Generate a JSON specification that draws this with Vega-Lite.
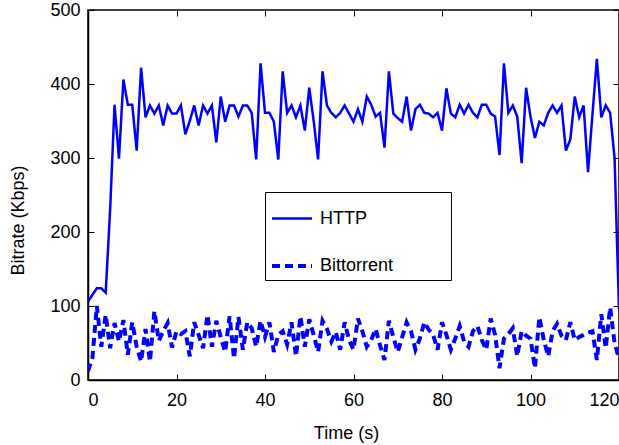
{
  "$schema": "https://vega.github.io/schema/vega-lite/v6.json",
  "width": 531,
  "height": 370,
  "autosize": {"type": "none"},
  "padding": {"left": 88, "top": 10, "right": 0, "bottom": 65},
  "background": "white",
  "config": {
    "view": {"stroke": "black", "strokeWidth": 1.5},
    "font": "Liberation Sans",
    "axis": {
      "domainColor": "black", "domainWidth": 1.5,
      "tickColor": "black", "tickSize": -6, "tickWidth": 1,
      "labelFont": "Liberation Sans", "labelFontSize": 18, "labelColor": "black",
      "titleFont": "Liberation Sans", "titleFontSize": 18, "titleColor": "black", "titleFontWeight": "normal",
      "grid": false
    },
    "legend": {
      "orient": "none", "legendX": 177, "legendY": 182,
      "symbolType": "stroke", "symbolSize": 1600,
      "strokeColor": "black", "fillColor": "white", "padding": 5,
      "rowPadding": 16, "labelFontSize": 18, "labelFont": "Liberation Sans", "labelColor": "black",
      "labelOffset": 6, "labelLimit": 0
    }
  },
  "data": {"values": [
{"t":0,"v":106,"s":"HTTP"},{"t":1,"v":115,"s":"HTTP"},{"t":2,"v":124,"s":"HTTP"},{"t":3,"v":124,"s":"HTTP"},{"t":4,"v":118,"s":"HTTP"},{"t":5,"v":230,"s":"HTTP"},{"t":6,"v":372,"s":"HTTP"},{"t":7,"v":299,"s":"HTTP"},{"t":8,"v":406,"s":"HTTP"},{"t":9,"v":372,"s":"HTTP"},
{"t":10,"v":372,"s":"HTTP"},{"t":11,"v":310,"s":"HTTP"},{"t":12,"v":422,"s":"HTTP"},{"t":13,"v":355,"s":"HTTP"},{"t":14,"v":371,"s":"HTTP"},{"t":15,"v":360,"s":"HTTP"},{"t":16,"v":371,"s":"HTTP"},{"t":17,"v":344,"s":"HTTP"},{"t":18,"v":371,"s":"HTTP"},{"t":19,"v":360,"s":"HTTP"},
{"t":20,"v":360,"s":"HTTP"},{"t":21,"v":371,"s":"HTTP"},{"t":22,"v":332,"s":"HTTP"},{"t":23,"v":350,"s":"HTTP"},{"t":24,"v":371,"s":"HTTP"},{"t":25,"v":344,"s":"HTTP"},{"t":26,"v":371,"s":"HTTP"},{"t":27,"v":360,"s":"HTTP"},{"t":28,"v":371,"s":"HTTP"},{"t":29,"v":321,"s":"HTTP"},
{"t":30,"v":383,"s":"HTTP"},{"t":31,"v":349,"s":"HTTP"},{"t":32,"v":371,"s":"HTTP"},{"t":33,"v":371,"s":"HTTP"},{"t":34,"v":356,"s":"HTTP"},{"t":35,"v":371,"s":"HTTP"},{"t":36,"v":371,"s":"HTTP"},{"t":37,"v":361,"s":"HTTP"},{"t":38,"v":298,"s":"HTTP"},{"t":39,"v":428,"s":"HTTP"},
{"t":40,"v":361,"s":"HTTP"},{"t":41,"v":361,"s":"HTTP"},{"t":42,"v":349,"s":"HTTP"},{"t":43,"v":298,"s":"HTTP"},{"t":44,"v":417,"s":"HTTP"},{"t":45,"v":361,"s":"HTTP"},{"t":46,"v":371,"s":"HTTP"},{"t":47,"v":355,"s":"HTTP"},{"t":48,"v":371,"s":"HTTP"},{"t":49,"v":337,"s":"HTTP"},
{"t":50,"v":395,"s":"HTTP"},{"t":51,"v":350,"s":"HTTP"},{"t":52,"v":298,"s":"HTTP"},{"t":53,"v":417,"s":"HTTP"},{"t":54,"v":371,"s":"HTTP"},{"t":55,"v":361,"s":"HTTP"},{"t":56,"v":355,"s":"HTTP"},{"t":57,"v":361,"s":"HTTP"},{"t":58,"v":371,"s":"HTTP"},{"t":59,"v":360,"s":"HTTP"},
{"t":60,"v":349,"s":"HTTP"},{"t":61,"v":366,"s":"HTTP"},{"t":62,"v":349,"s":"HTTP"},{"t":63,"v":383,"s":"HTTP"},{"t":64,"v":372,"s":"HTTP"},{"t":65,"v":356,"s":"HTTP"},{"t":66,"v":361,"s":"HTTP"},{"t":67,"v":314,"s":"HTTP"},{"t":68,"v":417,"s":"HTTP"},{"t":69,"v":360,"s":"HTTP"},
{"t":70,"v":354,"s":"HTTP"},{"t":71,"v":349,"s":"HTTP"},{"t":72,"v":383,"s":"HTTP"},{"t":73,"v":337,"s":"HTTP"},{"t":74,"v":366,"s":"HTTP"},{"t":75,"v":372,"s":"HTTP"},{"t":76,"v":361,"s":"HTTP"},{"t":77,"v":360,"s":"HTTP"},{"t":78,"v":355,"s":"HTTP"},{"t":79,"v":361,"s":"HTTP"},
{"t":80,"v":337,"s":"HTTP"},{"t":81,"v":394,"s":"HTTP"},{"t":82,"v":360,"s":"HTTP"},{"t":83,"v":355,"s":"HTTP"},{"t":84,"v":372,"s":"HTTP"},{"t":85,"v":360,"s":"HTTP"},{"t":86,"v":372,"s":"HTTP"},{"t":87,"v":361,"s":"HTTP"},{"t":88,"v":355,"s":"HTTP"},{"t":89,"v":372,"s":"HTTP"},
{"t":90,"v":372,"s":"HTTP"},{"t":91,"v":360,"s":"HTTP"},{"t":92,"v":356,"s":"HTTP"},{"t":93,"v":304,"s":"HTTP"},{"t":94,"v":428,"s":"HTTP"},{"t":95,"v":361,"s":"HTTP"},{"t":96,"v":371,"s":"HTTP"},{"t":97,"v":356,"s":"HTTP"},{"t":98,"v":293,"s":"HTTP"},{"t":99,"v":395,"s":"HTTP"},
{"t":100,"v":356,"s":"HTTP"},{"t":101,"v":327,"s":"HTTP"},{"t":102,"v":349,"s":"HTTP"},{"t":103,"v":344,"s":"HTTP"},{"t":104,"v":361,"s":"HTTP"},{"t":105,"v":371,"s":"HTTP"},{"t":106,"v":361,"s":"HTTP"},{"t":107,"v":371,"s":"HTTP"},{"t":108,"v":310,"s":"HTTP"},{"t":109,"v":325,"s":"HTTP"},
{"t":110,"v":383,"s":"HTTP"},{"t":111,"v":355,"s":"HTTP"},{"t":112,"v":371,"s":"HTTP"},{"t":113,"v":281,"s":"HTTP"},{"t":114,"v":359,"s":"HTTP"},{"t":115,"v":434,"s":"HTTP"},{"t":116,"v":355,"s":"HTTP"},{"t":117,"v":371,"s":"HTTP"},{"t":118,"v":361,"s":"HTTP"},{"t":119,"v":300,"s":"HTTP"},
{"t":120,"v":95,"s":"HTTP"},
{"t":0,"v":12,"s":"Bittorrent"},{"t":1,"v":30,"s":"Bittorrent"},{"t":2,"v":100,"s":"Bittorrent"},{"t":3,"v":45,"s":"Bittorrent"},{"t":4,"v":88,"s":"Bittorrent"},{"t":5,"v":43,"s":"Bittorrent"},{"t":6,"v":77,"s":"Bittorrent"},{"t":7,"v":52,"s":"Bittorrent"},{"t":8,"v":81,"s":"Bittorrent"},{"t":9,"v":34,"s":"Bittorrent"},
{"t":10,"v":78,"s":"Bittorrent"},{"t":11,"v":45,"s":"Bittorrent"},{"t":12,"v":25,"s":"Bittorrent"},{"t":13,"v":69,"s":"Bittorrent"},{"t":14,"v":25,"s":"Bittorrent"},{"t":15,"v":93,"s":"Bittorrent"},{"t":16,"v":53,"s":"Bittorrent"},{"t":17,"v":66,"s":"Bittorrent"},{"t":18,"v":77,"s":"Bittorrent"},{"t":19,"v":44,"s":"Bittorrent"},
{"t":20,"v":66,"s":"Bittorrent"},{"t":21,"v":62,"s":"Bittorrent"},{"t":22,"v":66,"s":"Bittorrent"},{"t":23,"v":32,"s":"Bittorrent"},{"t":24,"v":78,"s":"Bittorrent"},{"t":25,"v":61,"s":"Bittorrent"},{"t":26,"v":43,"s":"Bittorrent"},{"t":27,"v":88,"s":"Bittorrent"},{"t":28,"v":45,"s":"Bittorrent"},{"t":29,"v":80,"s":"Bittorrent"},
{"t":30,"v":58,"s":"Bittorrent"},{"t":31,"v":38,"s":"Bittorrent"},{"t":32,"v":86,"s":"Bittorrent"},{"t":33,"v":29,"s":"Bittorrent"},{"t":34,"v":85,"s":"Bittorrent"},{"t":35,"v":41,"s":"Bittorrent"},{"t":36,"v":78,"s":"Bittorrent"},{"t":37,"v":70,"s":"Bittorrent"},{"t":38,"v":45,"s":"Bittorrent"},{"t":39,"v":80,"s":"Bittorrent"},
{"t":40,"v":58,"s":"Bittorrent"},{"t":41,"v":78,"s":"Bittorrent"},{"t":42,"v":38,"s":"Bittorrent"},{"t":43,"v":61,"s":"Bittorrent"},{"t":44,"v":66,"s":"Bittorrent"},{"t":45,"v":48,"s":"Bittorrent"},{"t":46,"v":78,"s":"Bittorrent"},{"t":47,"v":32,"s":"Bittorrent"},{"t":48,"v":86,"s":"Bittorrent"},{"t":49,"v":45,"s":"Bittorrent"},
{"t":50,"v":82,"s":"Bittorrent"},{"t":51,"v":61,"s":"Bittorrent"},{"t":52,"v":38,"s":"Bittorrent"},{"t":53,"v":80,"s":"Bittorrent"},{"t":54,"v":69,"s":"Bittorrent"},{"t":55,"v":52,"s":"Bittorrent"},{"t":56,"v":65,"s":"Bittorrent"},{"t":57,"v":41,"s":"Bittorrent"},{"t":58,"v":78,"s":"Bittorrent"},{"t":59,"v":54,"s":"Bittorrent"},
{"t":60,"v":41,"s":"Bittorrent"},{"t":61,"v":83,"s":"Bittorrent"},{"t":62,"v":66,"s":"Bittorrent"},{"t":63,"v":45,"s":"Bittorrent"},{"t":64,"v":54,"s":"Bittorrent"},{"t":65,"v":69,"s":"Bittorrent"},{"t":66,"v":47,"s":"Bittorrent"},{"t":67,"v":27,"s":"Bittorrent"},{"t":68,"v":80,"s":"Bittorrent"},{"t":69,"v":58,"s":"Bittorrent"},
{"t":70,"v":38,"s":"Bittorrent"},{"t":71,"v":58,"s":"Bittorrent"},{"t":72,"v":78,"s":"Bittorrent"},{"t":73,"v":66,"s":"Bittorrent"},{"t":74,"v":41,"s":"Bittorrent"},{"t":75,"v":56,"s":"Bittorrent"},{"t":76,"v":78,"s":"Bittorrent"},{"t":77,"v":68,"s":"Bittorrent"},{"t":78,"v":61,"s":"Bittorrent"},{"t":79,"v":41,"s":"Bittorrent"},
{"t":80,"v":78,"s":"Bittorrent"},{"t":81,"v":61,"s":"Bittorrent"},{"t":82,"v":41,"s":"Bittorrent"},{"t":83,"v":56,"s":"Bittorrent"},{"t":84,"v":73,"s":"Bittorrent"},{"t":85,"v":52,"s":"Bittorrent"},{"t":86,"v":45,"s":"Bittorrent"},{"t":87,"v":66,"s":"Bittorrent"},{"t":88,"v":73,"s":"Bittorrent"},{"t":89,"v":54,"s":"Bittorrent"},
{"t":90,"v":41,"s":"Bittorrent"},{"t":91,"v":83,"s":"Bittorrent"},{"t":92,"v":61,"s":"Bittorrent"},{"t":93,"v":16,"s":"Bittorrent"},{"t":94,"v":56,"s":"Bittorrent"},{"t":95,"v":62,"s":"Bittorrent"},{"t":96,"v":70,"s":"Bittorrent"},{"t":97,"v":32,"s":"Bittorrent"},{"t":98,"v":66,"s":"Bittorrent"},{"t":99,"v":60,"s":"Bittorrent"},
{"t":100,"v":56,"s":"Bittorrent"},{"t":101,"v":16,"s":"Bittorrent"},{"t":102,"v":85,"s":"Bittorrent"},{"t":103,"v":54,"s":"Bittorrent"},{"t":104,"v":32,"s":"Bittorrent"},{"t":105,"v":66,"s":"Bittorrent"},{"t":106,"v":76,"s":"Bittorrent"},{"t":107,"v":60,"s":"Bittorrent"},{"t":108,"v":54,"s":"Bittorrent"},{"t":109,"v":78,"s":"Bittorrent"},
{"t":110,"v":54,"s":"Bittorrent"},{"t":111,"v":58,"s":"Bittorrent"},{"t":112,"v":61,"s":"Bittorrent"},{"t":113,"v":64,"s":"Bittorrent"},{"t":114,"v":66,"s":"Bittorrent"},{"t":115,"v":27,"s":"Bittorrent"},{"t":116,"v":89,"s":"Bittorrent"},{"t":117,"v":43,"s":"Bittorrent"},{"t":118,"v":98,"s":"Bittorrent"},{"t":119,"v":50,"s":"Bittorrent"},
{"t":120,"v":29,"s":"Bittorrent"}
  ]},
  "layer": [
    {
      "mark": {"type": "line", "clip": true},
      "encoding": {
        "x": {"field": "t", "type": "quantitative", "scale": {"domain": [0, 120], "nice": false},
              "axis": {"values": [0, 20, 40, 60, 80, 100, 120], "title": "Time (s)", "labelPadding": 17, "titlePadding": 15, "titleX": 258}},
        "y": {"field": "v", "type": "quantitative", "scale": {"domain": [0, 500], "nice": false},
              "axis": {"values": [0, 100, 200, 300, 400, 500], "title": "Bitrate (Kbps)", "labelPadding": 14, "titlePadding": 22, "titleY": 210}},
        "color": {"field": "s", "type": "nominal", "scale": {"domain": ["HTTP", "Bittorrent"], "range": ["#0000ff", "#0000ff"]},
                  "legend": {"title": null, "labelExpr": "datum.label + '\u2800\u2800\u2800\u2800'"}},
        "strokeDash": {"field": "s", "type": "nominal", "scale": {"domain": ["HTTP", "Bittorrent"], "range": [[1, 0], [8, 5]]},
                  "legend": {"title": null, "labelExpr": "datum.label + '\u2800\u2800\u2800\u2800'"}},
        "strokeWidth": {"field": "s", "type": "nominal", "scale": {"domain": ["HTTP", "Bittorrent"], "range": [2.5, 4]},
                  "legend": {"title": null, "labelExpr": "datum.label + '\u2800\u2800\u2800\u2800'"}}
      }
    },
    {
      "mark": {"type": "line", "opacity": 0},
      "encoding": {
        "x": {"field": "t", "type": "quantitative", "scale": {"domain": [0, 120], "nice": false},
              "axis": {"orient": "top", "values": [0, 20, 40, 60, 80, 100, 120], "labels": false, "title": null, "domain": false}},
        "y": {"field": "v", "type": "quantitative", "scale": {"domain": [0, 500], "nice": false},
              "axis": {"orient": "right", "values": [0, 100, 200, 300, 400, 500], "labels": false, "title": null, "domain": false}}
      }
    }
  ],
  "resolve": {"axis": {"x": "independent", "y": "independent"}}
}
